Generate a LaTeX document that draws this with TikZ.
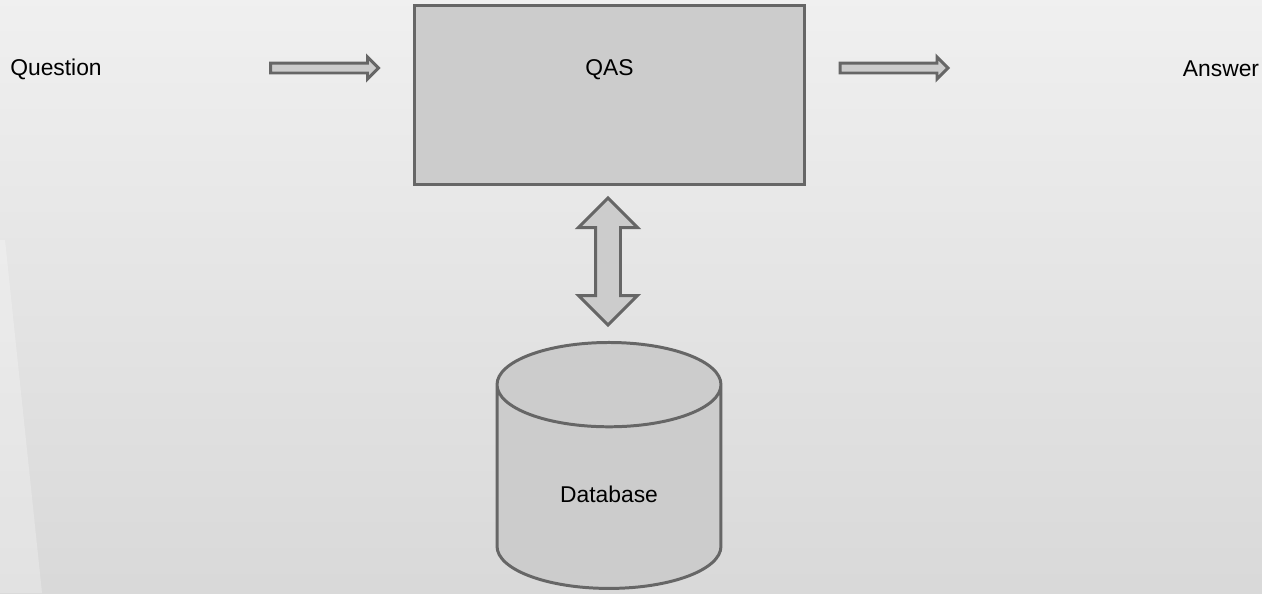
\documentclass[tikz,border=0pt]{standalone}
\usepackage{fontspec}
\setmainfont{Liberation Sans}
\usetikzlibrary{shapes,arrows,positioning,calc}
\definecolor{boxgray}{HTML}{CCCCCC}
\definecolor{linegray}{HTML}{666666}

\begin{document}
\begin{tikzpicture}[x=0.02cm, y=-0.02cm,
    every node/.style={font=\fontsize{13}{15}\selectfont},
    part/.style={draw=linegray, fill=boxgray, line width=1.7pt},
    flatarrow/.style={part, single arrow, single arrow head extend=0.12cm, minimum height=2.16cm, inner sep=0.07cm}]
            % Background
            \shade[top color=black!6, bottom color=black!15] (0,0) rectangle (1262,593);
            \fill[white, opacity=0.25] (0,240) -- (5,240) -- (42,593) -- (0,593) -- cycle;
            \useasboundingbox (0,0) rectangle (1262,593);

            % QAS
            \node[part, minimum width=7.82cm, minimum height=3.6cm] (qas) at (609.5,95) {};
            \node (qaslabel) at ($(qas.north)+(0,66)$) {QAS};

            % Question and answer
            \node (question) at (56,69) {Question};
            \node (answer) at (1221,69) {Answer};
            \node[flatarrow] (inarrow) at (322,68) {};
            \node[flatarrow] (outarrow) at (891.5,68) {};

            % Database
            \node[part, double arrow, shape border rotate=90, double arrow head extend=0.34cm, minimum height=2.54cm, inner sep=0.22cm] (link) at (608,261.5) {};
            \node[part, cylinder, shape border rotate=90, aspect=0.77, minimum width=4.48cm, minimum height=4.92cm] (db) at (609,494) {Database};
        \end{tikzpicture}
\end{document}
